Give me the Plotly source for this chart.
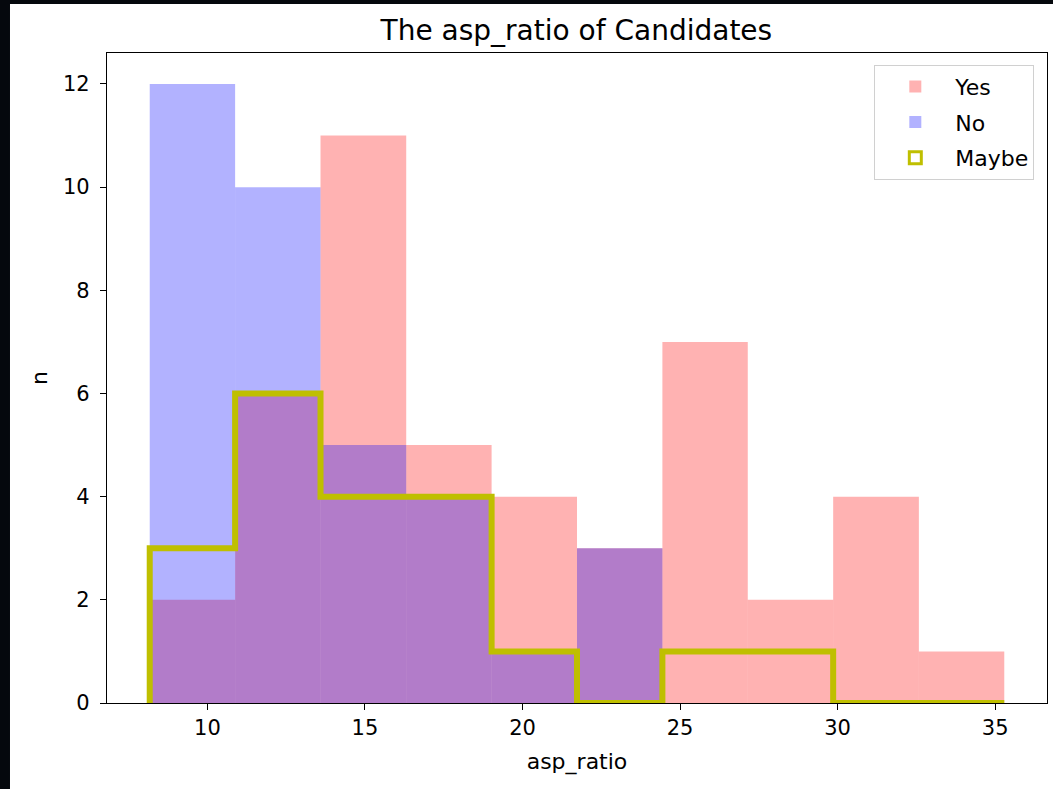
import plotly.graph_objects as go

# histogram bin edges (10 shared bins) and counts per group
bin_edges = [8.17, 10.88, 13.59, 16.31, 19.02, 21.73, 24.44, 27.15, 29.86, 32.58, 35.29]
yes_counts = [2, 6, 11, 5, 4, 3, 7, 2, 4, 1]
no_counts = [12, 10, 5, 4, 1, 3, 0, 0, 0, 0]
maybe_counts = [3, 6, 4, 4, 1, 0, 1, 1, 0, 0]

centers = [(a + b) / 2 for a, b in zip(bin_edges[:-1], bin_edges[1:])]
widths = [b - a for a, b in zip(bin_edges[:-1], bin_edges[1:])]

font = "DejaVu Sans"
yellow = "#bfbf00"

fig = go.Figure()

# filled histograms, alpha 0.3 like matplotlib
fig.add_trace(go.Bar(x=centers, y=yes_counts, width=widths, name="Yes",
                     marker=dict(color="rgba(255,0,0,0.3)", line=dict(width=0)),
                     legendgroup="yes"))
fig.add_trace(go.Bar(x=centers, y=no_counts, width=widths, name="No",
                     marker=dict(color="rgba(0,0,255,0.3)", line=dict(width=0)),
                     legendgroup="no"))

# step outline for "Maybe"
step_x = [bin_edges[0]] + bin_edges
step_y = [0] + maybe_counts + [0]
fig.add_trace(go.Scatter(x=step_x, y=step_y, mode="lines", name="Maybe",
                         line=dict(color=yellow, width=6, shape="hv"),
                         showlegend=False, legendgroup="maybe"))
# legend entry only: hollow box like matplotlib's step patch
fig.add_trace(go.Bar(x=[None], y=[None], name="Maybe",
                     marker=dict(color="white", line=dict(color=yellow, width=3)),
                     legendgroup="maybe"))

axis_common = dict(
    showline=True, linecolor="black", linewidth=1.3, mirror=True,
    ticks="outside", ticklen=6, tickwidth=1.3, tickcolor="black",
    showgrid=False, zeroline=False,
    tickfont=dict(family=font, size=21, color="black"),
)

fig.update_xaxes(range=[6.814, 36.646], tickvals=[10, 15, 20, 25, 30, 35],
                 ticklabelstandoff=0,
                 title=dict(text="asp_ratio", font=dict(family=font, size=22, color="black"),
                            standoff=14),
                 **axis_common)
fig.update_yaxes(range=[0, 12.6], tickvals=[0, 2, 4, 6, 8, 10, 12],
                 ticklabelstandoff=6,
                 title=dict(text="n", font=dict(family=font, size=22, color="black"),
                            standoff=9),
                 **axis_common)

# dark strips around the screenshot edges
fig.add_shape(type="rect", xref="paper", yref="paper", x0=-0.2, x1=-0.1032,
              y0=-0.3, y1=1.3, fillcolor="#05080d", line_width=0, layer="below")
fig.add_shape(type="rect", xref="paper", yref="paper", x0=-0.2, x1=1.2,
              y0=1.0754, y1=1.3, fillcolor="#05080d", line_width=0, layer="below")

fig.update_layout(
    width=1053, height=789,
    margin=dict(l=107, r=6, t=53, b=86),
    barmode="overlay",
    paper_bgcolor="white", plot_bgcolor="white",
    title=dict(text="The asp_ratio of Candidates", x=0.5474, xanchor="center",
               y=1 - 30 / 789, yanchor="middle",
               font=dict(family=font, size=28, color="black")),
    legend=dict(x=0.9865, y=0.982, xanchor="right", yanchor="top",
                bgcolor="rgba(255,255,255,0.8)", bordercolor="#d0d0d0", borderwidth=1,
                font=dict(family=font, size=22, color="black"),
                tracegroupgap=4, itemwidth=70),
    font=dict(family=font),
)

# page has no body margin so the figure sits at the window corner
fig.write_html("out.html", config={"displayModeBar": False},
               post_script="document.body.style.margin='0';")
